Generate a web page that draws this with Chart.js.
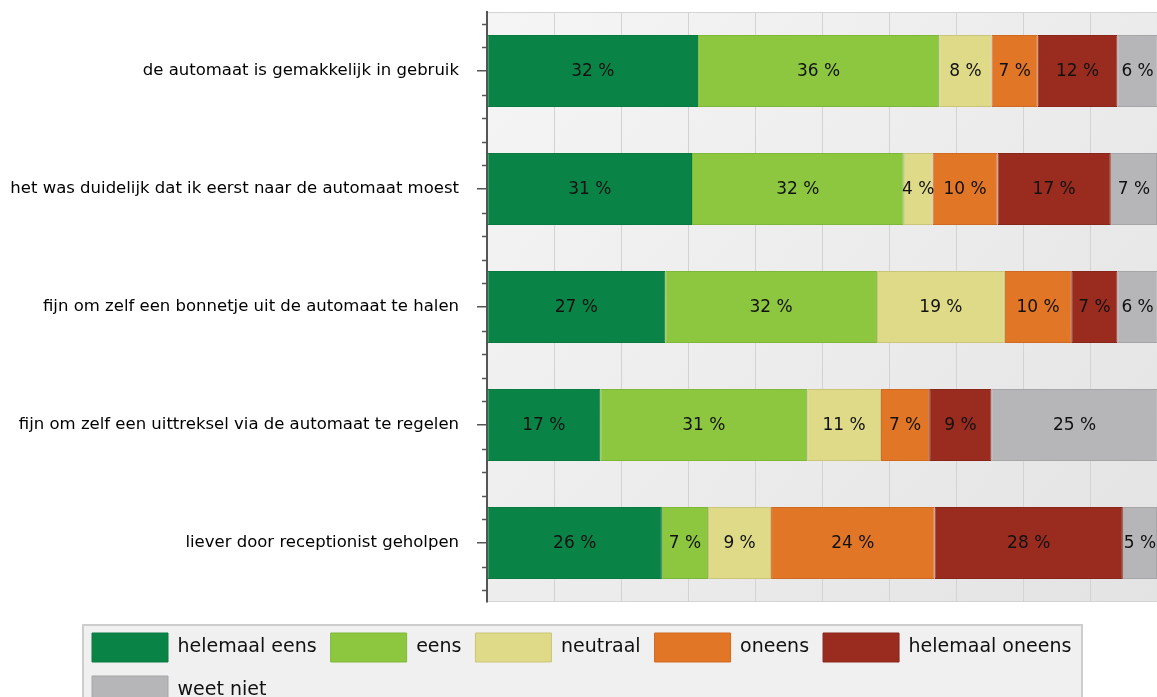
<!DOCTYPE html>
<html><head><meta charset="utf-8">
<script src="https://cdn.jsdelivr.net/npm/chart.js@4.4.1/dist/chart.umd.min.js"></script>
<style>html,body{margin:0;padding:0;background:#fff;}#c{display:block;}</style>
</head><body>
<canvas id="c" width="1157" height="697"></canvas>
<script>
const categories = [
  'de automaat is gemakkelijk in gebruik',
  'het was duidelijk dat ik eerst naar de automaat moest',
  'fijn om zelf een bonnetje uit de automaat te halen',
  'fijn om zelf een uittreksel via de automaat te regelen',
  'liever door receptionist geholpen'
];
const seriesNames = ['helemaal eens', 'eens', 'neutraal', 'oneens', 'helemaal oneens', 'weet niet'];
const helemaalEens   = [31.5, 30.6, 26.6, 16.9, 26.1];
const eens           = [36.0, 31.6, 31.6, 30.9, 6.9];
const neutraal       = [7.8, 4.3, 19.1, 11.0, 9.4];
const oneens         = [6.9, 9.7, 9.9, 7.2, 24.4];
const helemaalOneens = [11.9, 16.9, 6.9, 9.3, 28.1];
const weetNiet       = [6.0, 6.9, 6.0, 24.8, 5.1];
const xTicks = [0, 10, 20, 30, 40, 50, 60, 70, 80, 90, 100];

const seriesValues = [helemaalEens, eens, neutraal, oneens, helemaalOneens, weetNiet];
const fillColors   = ['#0a8446', '#8dc63f', '#dfda87', '#e27627', '#992c1f', '#b6b6b8'];
const edgeColors   = ['#087a40', '#7fb838', '#cbc57a', '#d06a20', '#88261b', '#a6a6a8'];

const FONT = '"DejaVu Sans", Verdana, sans-serif';

const legendShift = {
  id: 'legendShift',
  afterLayout(chart) {
    chart.legend.left = 78;
  }
};

const plotBackground = {
  id: 'plotBackground',
  beforeDraw(chart) {
    const {ctx, chartArea: a} = chart;
    ctx.save();
    const g = ctx.createLinearGradient(a.left, a.top, a.right, a.bottom);
    g.addColorStop(0, '#f5f5f5');
    g.addColorStop(1, '#e3e3e3');
    ctx.fillStyle = g;
    ctx.fillRect(a.left, a.top, a.right - a.left, a.bottom - a.top);
    ctx.strokeStyle = '#d4d4d4';
    ctx.lineWidth = 1;
    ctx.strokeRect(a.left + 0.5, a.top + 0.5, a.right - a.left, a.bottom - a.top - 1);
    const lg = chart.legend;
    ctx.fillStyle = '#f0f0f0';
    ctx.fillRect(lg.left + 5, lg.top + 6, 999, lg.bottom - lg.top);
    ctx.strokeStyle = '#cdcdcd';
    ctx.lineWidth = 2;
    ctx.strokeRect(lg.left + 5, lg.top + 6, 999, lg.bottom - lg.top);
    ctx.restore();
  }
};

const minorTicks = {
  id: 'minorTicks',
  afterDraw(chart) {
    const y = chart.scales.y;
    const ctx = chart.ctx;
    const x0 = y.right;
    ctx.save();
    ctx.strokeStyle = '#555';
    ctx.lineWidth = 1.5;
    categories.forEach((c, i) => {
      [-0.4, -0.2, 0.2, 0.4].forEach(d => {
        const py = Math.round(y.getPixelForValue(i + d)) + 0.5;
        ctx.beginPath();
        ctx.moveTo(x0 - 5, py);
        ctx.lineTo(x0, py);
        ctx.stroke();
      });
    });
    ctx.restore();
  }
};

const barLabels = {
  id: 'barLabels',
  afterDatasetsDraw(chart) {
    const ctx = chart.ctx;
    ctx.save();
    ctx.font = '17px ' + FONT;
    ctx.fillStyle = '#111';
    ctx.textAlign = 'center';
    ctx.textBaseline = 'middle';
    chart.data.datasets.forEach((ds, di) => {
      const meta = chart.getDatasetMeta(di);
      meta.data.forEach((el, i) => {
        ctx.fillText(Math.round(ds.data[i]) + ' %', (el.x + el.base) / 2, el.y + 1);
      });
    });
    ctx.restore();
  }
};

new Chart(document.getElementById('c'), {
  type: 'bar',
  data: {
    labels: categories,
    datasets: seriesNames.map((name, i) => ({
      label: name,
      data: seriesValues[i],
      backgroundColor: fillColors[i],
      borderColor: edgeColors[i],
      borderWidth: 1,
      borderSkipped: false,
      barPercentage: 0.61,
      categoryPercentage: 1.0
    }))
  },
  options: {
    indexAxis: 'y',
    responsive: false,
    animation: false,
    layout: { padding: { top: 12, left: 0, right: 0, bottom: -18 } },
    scales: {
      x: {
        type: 'linear', stacked: true, min: 0, max: 100,
        afterBuildTicks(s) { s.ticks = xTicks.map(v => ({ value: v })); },
        ticks: { display: false },
        grid: { color: '#d3d3d3', drawTicks: false, lineWidth: 1 },
        border: { display: false },
        afterFit(s) { s.height = 17; }
      },
      y: {
        type: 'category', stacked: true,
        ticks: { font: { family: FONT, size: 16.5 }, color: '#000', padding: 18 },
        grid: { display: true, drawOnChartArea: false, drawTicks: true, tickLength: 10, offset: false, color: '#555', lineWidth: 1.5 },
        border: { display: true, color: '#555', width: 2 },
        afterFit(s) { s.width = 487; s.paddingTop = 0; s.paddingBottom = 0; }
      }
    },
    plugins: {
      legend: {
        position: 'bottom', align: 'start',
        labels: { boxWidth: 76, boxHeight: 29, padding: 14, color: '#111', font: { family: FONT, size: 19 } }
      },
      tooltip: { enabled: false },
      title: { display: false }
    }
  },
  plugins: [legendShift, plotBackground, minorTicks, barLabels]
});
</script>
</body></html>
